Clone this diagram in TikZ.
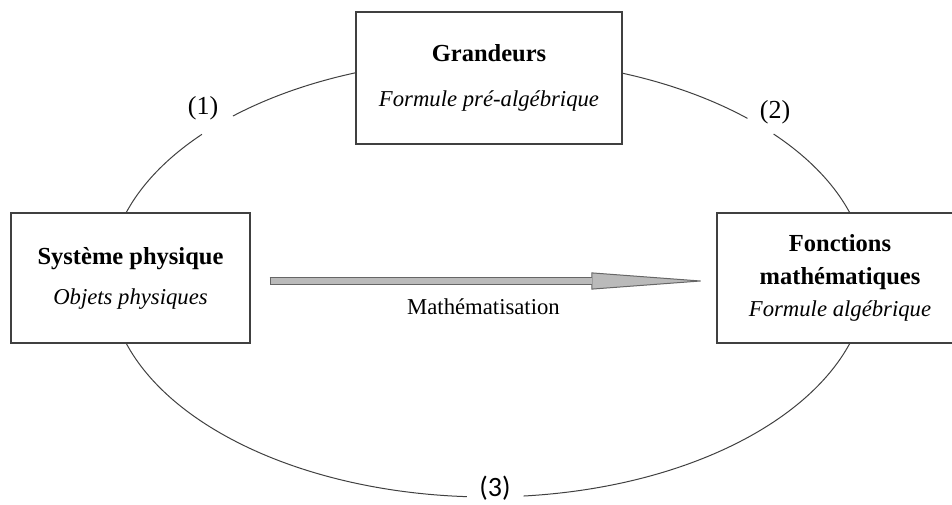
\documentclass[tikz,border=0pt]{standalone}
\usepackage{fontspec}
\setmainfont{Liberation Serif}
\newfontfamily\calib{Carlito}
\usetikzlibrary{positioning, arrows, arrows.meta}

\tikzset{
  boite/.style={draw=black!75, line width=1.3pt, fill=white, align=center, inner sep=0pt},
  cycle/.style={draw=black!75, line width=1pt},
  numero/.style={inner sep=0pt, font=\fontsize{26}{26}\selectfont},
  flecheout/.style={draw=black!60, line width=8pt, shorten <=19pt, shorten >=9pt,
    -{Triangle[length=116pt, width=17pt, line width=1pt, fill=black!27]}},
  flechein/.style={draw=black!27, line width=6pt, shorten <=20pt, shorten >=124pt}
}
\newcommand\titre[1]{{\fontsize{24.5}{24.5}\selectfont\bfseries #1}}

\begin{document}
\begin{tikzpicture}[x=1pt, y=1pt]
\useasboundingbox (0,0) rectangle (952,504);

% cycle
\coordinate (c) at (488,226);
\draw[cycle] (c) ++(46.8:379pt and 219pt) arc[start angle=46.8, end angle=132.3, x radius=379pt, y radius=219pt];
\draw[cycle] (c) ++(139:379pt and 219pt) arc[start angle=139, end angle=266.8, x radius=379pt, y radius=219pt];
\draw[cycle] (c) ++(275.4:379pt and 219pt) arc[start angle=275.4, end angle=401.1, x radius=379pt, y radius=219pt];

\node[numero] (n1) at (203,396) {(1)};
\node[numero] (n2) at (775,392) {(2)};
\node[numero, font=\calib\fontsize{28}{28}\selectfont] (n3) at (495,16) {(3)};

% boites
\node[boite, minimum width=266pt, minimum height=132pt, font=\fontsize{22.7}{45}\selectfont]
  (grand) at (489,426) {\titre{Grandeurs}\\\textit{Formule pré-algébrique}};
\node[boite, minimum width=239pt, minimum height=130pt, font=\fontsize{22.7}{40}\selectfont]
  (sys) at (130.5,226) {\titre{Système physique}\\\textit{Objets physiques}};
\node[boite, minimum width=246pt, minimum height=130pt, font=\fontsize{22.7}{32.5}\selectfont]
  (fct) at (840,226) {\titre{Fonctions}\\\titre{mathématiques}\\\textit{Formule algébrique}};

% mathematisation
\draw[flecheout] ([yshift=-3pt]sys.east) -- ([yshift=-3pt]fct.west);
\draw[flechein] ([yshift=-3pt]sys.east) -- ([yshift=-3pt]fct.west)
  node[midway, below=11pt, font=\fontsize{22.7}{22.7}\selectfont] (lab) {Mathématisation};
\end{tikzpicture}
\end{document}
